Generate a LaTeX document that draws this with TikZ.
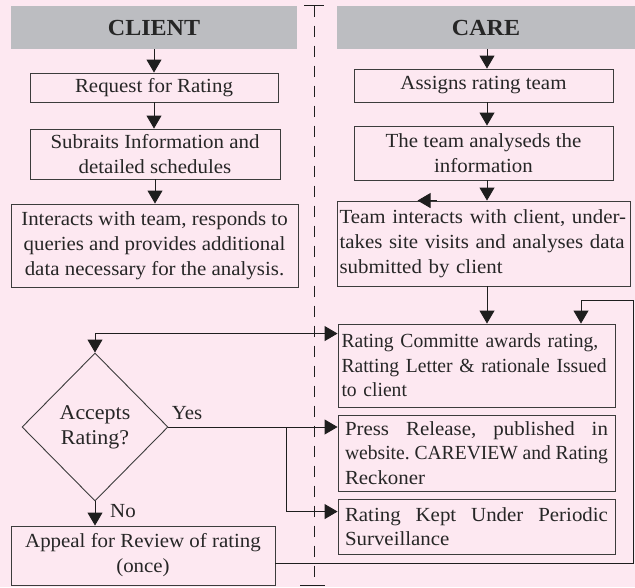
\documentclass[tikz,border=0pt]{standalone}
\usepackage{fontspec}
\setmainfont{Liberation Serif}[FakeStretch=1.045]
\newfontfamily\narrowfont{Liberation Serif}[FakeStretch=0.98, WordSpace=0.6]
\usetikzlibrary{arrows.meta,shapes.geometric,calc}
\definecolor{bgc}{HTML}{FDE8F1}
\definecolor{hdrc}{HTML}{BCBDC1}
\definecolor{boxc}{HTML}{3C3C3C}
\definecolor{linec}{HTML}{1E1E1E}
\newcommand\fillline[2]{\leavevmode\hbox to #1{#2}}
\tikzset{
  hdr/.style={fill=hdrc, draw=none, inner sep=0pt, font=\fontsize{23}{26}\selectfont\bfseries, text=black!85},
  stepbox/.style={draw=boxc, line width=0.9pt, inner xsep=3pt, inner ysep=0pt, font=\fontsize{20}{25}\selectfont, text=black!85},
  arr/.style={draw=linec, line width=0.9pt, -{Triangle[length=13pt,width=15pt]}},
  arrboth/.style={draw=linec, line width=0.9pt, {Triangle[length=13pt,width=15pt]}-{Triangle[length=13pt,width=15pt]}},
  plain/.style={draw=linec, line width=0.9pt},
  lbl/.style={inner sep=0pt, font=\fontsize{20}{24}\selectfont, text=black!85},
}
\begin{document}
\begin{tikzpicture}[x=1pt,y=-1pt]
\fill[bgc] (0,0) rectangle (635,587);
\useasboundingbox (0,0) rectangle (635,587);

% headers
\node[hdr, minimum width=286pt, minimum height=43pt] (clienth) at (154,27.5) {CLIENT};
\node[hdr, minimum width=298pt, minimum height=43pt] (careh) at (486,27.5) {CARE};

% divider
\draw[plain, dash pattern=on 11pt off 9pt] (314,5.5) -- (314,585);
\draw[plain] (304,5.5) -- (324,5.5);
\draw[plain] (300,585) -- (325,585);

% client column
\node[stepbox, minimum width=248pt, minimum height=29pt, align=center] (req) at (154,87.5) {Request for Rating};
\node[stepbox, minimum width=250pt, minimum height=50pt, align=center] (sub) at (155,154) {Subraits Information and\\detailed schedules};
\node[stepbox, minimum width=287pt, minimum height=83pt, align=center] (inter) at (154.5,245.5) {Interacts with team, responds to\\queries and provides additional\\data necessary for the analysis.};

% care column
\node[stepbox, minimum width=259pt, minimum height=33pt, align=center] (assign) at (483.5,85.5) {Assigns rating team};
\node[stepbox, minimum width=259pt, minimum height=54pt, align=center] (analyse) at (483.5,153) {The team analyseds the\\information};
\node[stepbox, minimum width=293pt, minimum height=85pt, inner xsep=2.5pt, text width=288pt, align=left] (teamint) at (483.5,243.5) {\mbox{Team interacts with client, under-}\\\mbox{takes site visits and analyses data}\\\mbox{submitted by client}};

\node[stepbox, minimum width=277pt, minimum height=83pt, inner xsep=3.5pt, text width=270pt, align=left, font=\fontsize{20}{24.5}\narrowfont] (rc) at (476.5,365.5) {\mbox{Rating Committe awards rating,}\\\mbox{Ratting Letter \& rationale Issued}\\\mbox{to client}};
\node[stepbox, minimum width=277pt, minimum height=76pt, inner xsep=7pt, text width=263pt, align=left, font=\fontsize{20}{24.5}\selectfont] (press) at (476.5,453) {\fillline{263pt}{Press\hfill Release,\hfill published\hfill in}\\\fillline{263pt}{\narrowfont website.\hfill CAREVIEW\hfill and\hfill Rating}\\\mbox{Reckoner}};
\node[stepbox, minimum width=277pt, minimum height=55pt, inner xsep=7pt, text width=263pt, align=left, font=\fontsize{20}{24.5}\selectfont] (kept) at (476.5,526.5) {\fillline{263pt}{Rating\hfill Kept\hfill Under\hfill Periodic}\\\mbox{Surveillance}};

% decision
\node[draw=boxc, line width=0.9pt, shape=diamond, minimum width=146pt, minimum height=148pt, inner sep=0pt, align=center, font=\fontsize{21}{25}\selectfont, text=black!85] (dec) at (95,427) {Accepts\\Rating?};
\node[stepbox, minimum width=264pt, minimum height=59pt, align=center] (appeal) at (143,555.5) {Appeal for Review of rating\\(once)};

\node[lbl] (yes) at (187,413) {Yes};
\node[lbl] (no) at (123,511) {No};

% helper coordinates
\coordinate (ax) at (487,0);
\coordinate (rx) at (633,300);
\coordinate (fb) at (581,300);
\coordinate (bx) at (286,427);

% client arrows
\draw[arr] (clienth.south) -- (req.north);
\draw[arr] (req.south) -- (sub.north -| req.south);
\draw[arr] (sub.south) -- (inter.north -| sub.south);

% care arrows
\draw[arr] (careh.south -| ax) -- (assign.north -| ax);
\draw[arr] (assign.south -| ax) -- (analyse.north -| ax);
\draw[arr] (analyse.south -| ax) -- (teamint.north -| ax);
\draw[arr] ($(teamint.north west)+(100,0)$) -- ($(teamint.north west)+(81,0)$);
\draw[arr] (teamint.south -| ax) -- (rc.north -| ax);

% rating to client decision
\draw[arrboth] (dec.north) |- ($(rc.north west)+(0,10)$);
% yes branch
\draw[arr] (dec.east) -- (dec.east -| press.west);
\draw[arr] (bx) |- ($(kept.north west)+(0,13)$);
% no branch
\draw[arr] (dec.south) -- (dec.south |- appeal.north);
% appeal loop
\draw[arr] ($(appeal.east)+(0,7.5)$) -| (rx) -- (fb) -- (fb |- rc.north);
\end{tikzpicture}
\end{document}
